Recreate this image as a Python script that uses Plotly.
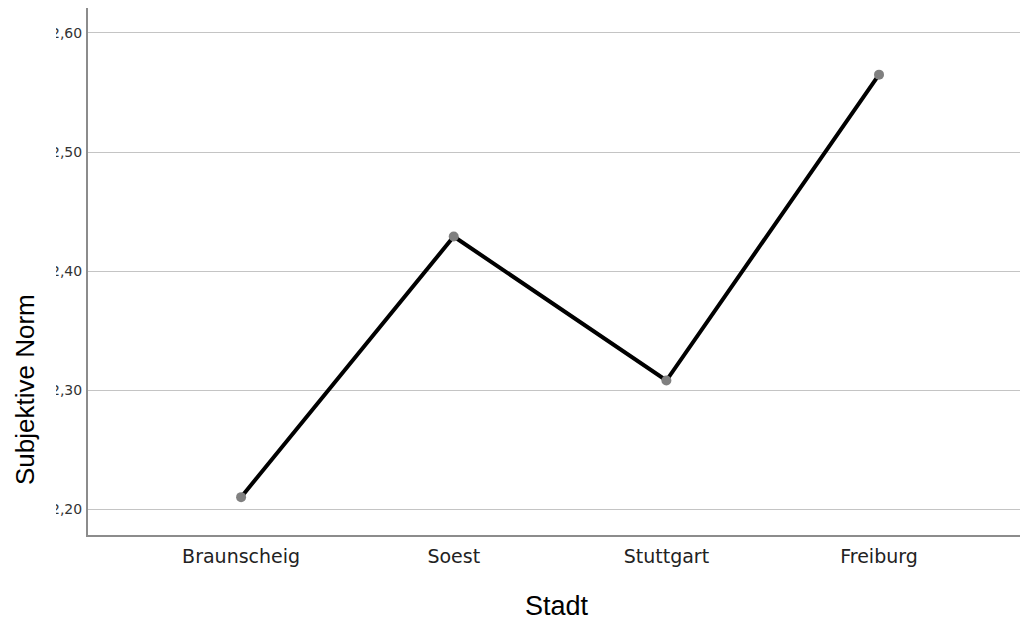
import plotly.graph_objects as go

cities = ["Braunscheig", "Soest", "Stuttgart", "Freiburg"]
means = [2.210, 2.429, 2.308, 2.565]
y_ticks = [2.2, 2.3, 2.4, 2.5, 2.6]
y_tick_labels = ["2,20", "2,30", "2,40", "2,50", "2,60"]

x_pos = list(range(len(cities)))

W, H = 1020, 621
L, R, T, B = 88, 0, 8, 86
pw, ph = W - L - R, H - T - B

fig = go.Figure()
fig.add_trace(go.Scatter(
    x=x_pos, y=means, mode="lines+markers",
    line=dict(color="black", width=4),
    marker=dict(color="#808080", size=10),
    showlegend=False, hoverinfo="skip",
))

fig.update_layout(
    width=W, height=H,
    margin=dict(l=L, r=R, t=T, b=B),
    paper_bgcolor="white", plot_bgcolor="white",
    xaxis=dict(
        range=[-0.72, 3.663], tickvals=x_pos, ticktext=cities,
        showgrid=False, zeroline=False,
        showline=True, linecolor="#8c8c8c", linewidth=2,
        ticks="", tickfont=dict(family="DejaVu Sans", size=19, color="#222"),
        ticklabelstandoff=3,
    ),
    yaxis=dict(
        range=[2.1782, 2.621], tickvals=y_ticks, ticktext=y_tick_labels,
        showgrid=True, gridcolor="#c4c4c4", gridwidth=1, zeroline=False,
        showline=True, linecolor="#8c8c8c", linewidth=2,
        ticks="", tickfont=dict(family="DejaVu Sans", size=14, color="#333"),
        ticklabelstandoff=1,
    ),
    # white strip that crops the leading digit of the y labels, as in the reference
    shapes=[dict(type="rect", xref="paper", yref="paper",
                 x0=(44 - L) / pw, x1=(56 - L) / pw, y0=0.0, y1=1.0,
                 fillcolor="white", line=dict(width=0), layer="above")],
    annotations=[
        dict(text="Subjektive Norm", xref="paper", yref="paper",
             x=(25 - L) / pw, y=(H - B - 390) / ph, xanchor="center", yanchor="middle",
             textangle=-90, showarrow=False,
             font=dict(family="Liberation Sans", size=26, color="black")),
        dict(text="Stadt", xref="paper", yref="paper",
             x=(557 - L) / pw, y=-(B - 2) / ph, xanchor="center", yanchor="bottom",
             showarrow=False, yshift=-4,
             font=dict(family="Liberation Sans", size=27, color="black")),
    ],
)

fig.write_html("out.html", config={"displayModeBar": False},
               post_script="document.body.style.margin='0';document.body.style.padding='0';")
